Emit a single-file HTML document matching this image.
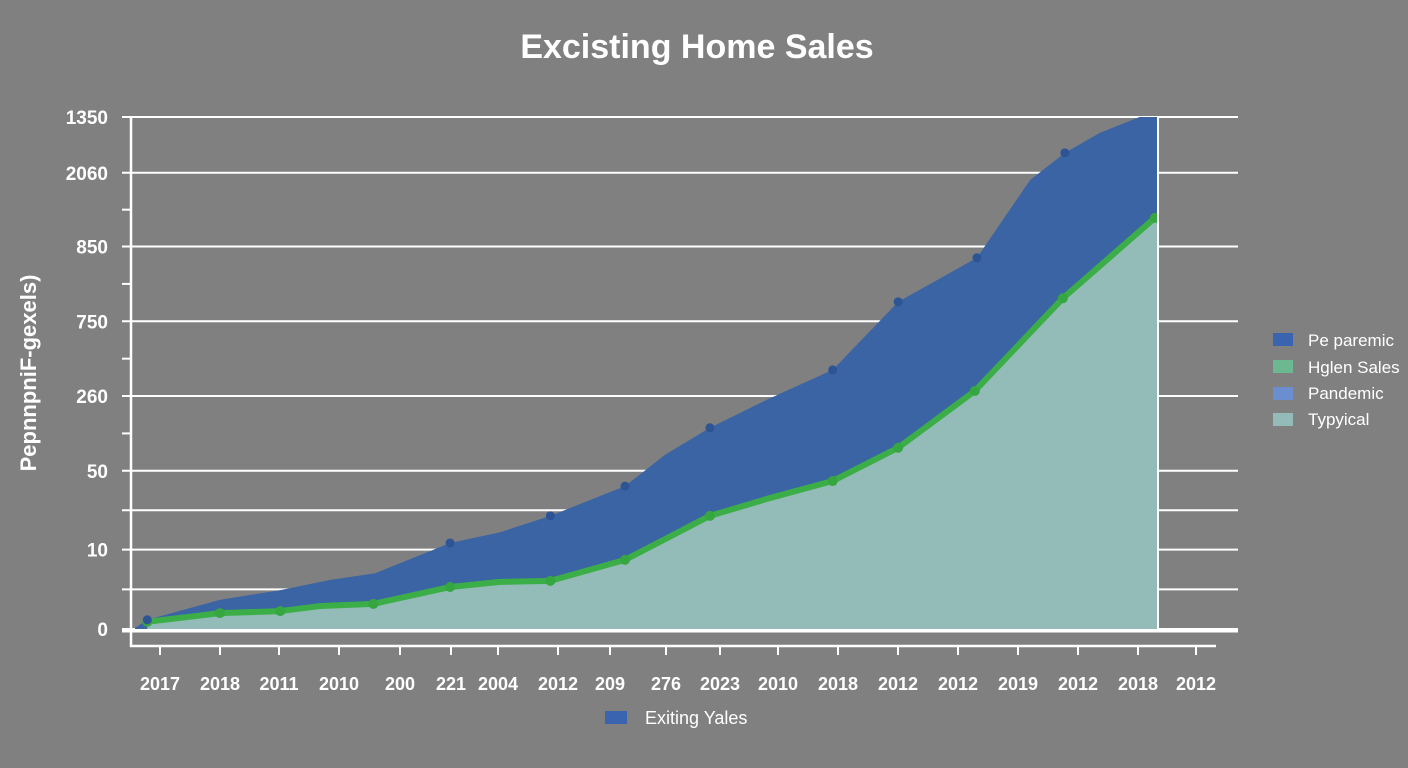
<!DOCTYPE html>
<html><head><meta charset="utf-8"><style>
html,body{margin:0;padding:0;background:#808080;}
svg{display:block;font-family:"Liberation Sans",sans-serif;}
</style></head><body>
<svg id="chart" width="1408" height="768">
<rect width="1408" height="768" fill="#808080"/>
<text x="697" y="58" text-anchor="middle" font-size="34" font-weight="bold" fill="#fff">Excisting Home Sales</text>
<text transform="translate(36,373) rotate(-90)" text-anchor="middle" font-size="22" font-weight="bold" fill="#fff">PepnnpniF-gexels)</text>
<g id="grid"></g>
<g id="marks"></g>
<g id="axes"></g>
<g id="legend">
<rect x="1273" y="333" width="20" height="13" fill="#3a64b0"/>
<text x="1308" y="346" font-size="17" fill="#fff">Pe paremic</text>
<rect x="1273" y="360" width="20" height="13" fill="#6cb890"/>
<text x="1308" y="373" font-size="17" fill="#fff">Hglen Sales</text>
<rect x="1273" y="387" width="20" height="13" fill="#6a8ed0"/>
<text x="1308" y="399" font-size="17" fill="#fff">Pandemic</text>
<rect x="1273" y="413" width="20" height="13" fill="#93bcb8"/>
<text x="1308" y="425" font-size="17" fill="#fff">Typyical</text>
</g>
<rect x="605" y="711" width="22" height="13" fill="#3a64b0"/>
<text x="645" y="724" font-size="18" fill="#fff">Exiting Yales</text>
</svg>
<script>
const yTickValues=[0,155,309,455,601,747,891,1000];
const yTickLabels=["0","10","50","260","750","850","2060","1350"];
const xLabels=["2017","2018","2011","2010","200","221","2004","2012","209","276","2023","2010","2018","2012","2012","2019","2012","2018","2012"];
const blueX=[0,1.2,8.3,14.2,19.1,23.5,30.8,35.7,40.6,47.9,51.8,56.2,62.1,68.2,74.6,82.3,87.5,90.9,94.3,98.2,100];
const blueY=[2,18,57,76,96,109,168,189,221,279,340,393,451,506,639,725,877,930,969,1000,1000];
const blueDotIdx=[1,6,8,9,11,13,14,15,17];
const greenX=[1.2,8.3,14.2,18.2,23.3,30.8,35.7,40.6,47.9,56.2,62.1,68.2,74.6,82.1,90.7,99.7,100];
const greenY=[14,31,35,45,49,82,92,94,135,221,256,289,354,465,646,803,808];
const greenDotIdx=[0,1,2,4,5,7,8,9,11,12,13,14,15];

const NS="http://www.w3.org/2000/svg";
const xs=v=>135+v/100*(1158-135);
const ys=v=>629-v/1000*512;
function mk(tag,attrs,parent){const e=document.createElementNS(NS,tag);for(const k in attrs)e.setAttribute(k,attrs[k]);parent.appendChild(e);return e;}
const grid=document.getElementById('grid'),marks=document.getElementById('marks'),axes=document.getElementById('axes');
yTickValues.forEach((v,i)=>{
  const l=mk('line',{x1:122,x2:1238,y1:ys(v),y2:ys(v),stroke:'#fff','stroke-width':2},grid);
  
  
  const t=mk('text',{x:108,y:ys(v)+7,'text-anchor':'end','font-size':19,'font-weight':'bold',fill:'#fff'},axes);
  t.textContent=yTickLabels[i];
  
  
  if(i>0 && i<yTickValues.length-2){
    const m=(yTickValues[i-1]+v)/2;
    const full=i<=2;
    const ml=mk('line',{x1:122,x2:full?1238:132,y1:ys(m),y2:ys(m),stroke:'#fff','stroke-width':2},grid);
    
    
  }
});
const lastMinor=(yTickValues[5]+yTickValues[6])/2;
const lm=mk('line',{x1:122,x2:132,y1:ys(lastMinor),y2:ys(lastMinor),stroke:'#fff','stroke-width':2},grid);


let d='M'+xs(blueX[0])+','+ys(0);
blueX.forEach((x,i)=>d+=' L'+xs(x)+','+ys(blueY[i]));
d+=' L'+xs(100)+','+ys(0)+'Z';
const ba=mk('path',{d:d,fill:'#3a64a4'},marks);


let d2='M'+xs(greenX[0])+','+ys(0);
greenX.forEach((x,i)=>d2+=' L'+xs(x)+','+ys(greenY[i]));
d2+=' L'+xs(100)+','+ys(0)+'Z';
const ta=mk('path',{d:d2,fill:'#93bcb8'},marks);


const gl=mk('polyline',{points:greenX.map((x,i)=>xs(x)+','+ys(greenY[i])).join(' '),fill:'none',stroke:'#3cae48','stroke-width':6,'stroke-linejoin':'round'},marks);


greenDotIdx.forEach(i=>{
  const c=mk('circle',{cx:xs(greenX[i]),cy:ys(greenY[i]),r:5,fill:'#36a640'},marks);
  
  
});
blueDotIdx.forEach(i=>{
  const c=mk('circle',{cx:xs(blueX[i]),cy:ys(blueY[i]),r:4.5,fill:'#2d5494'},marks);
  
  
});
const rb=mk('line',{x1:1158,x2:1158,y1:117,y2:632,stroke:'#fff','stroke-width':2},axes);


const bl=mk('line',{x1:122,x2:1238,y1:631,y2:631,stroke:'#fff','stroke-width':3},axes);


const va=mk('line',{x1:131,x2:131,y1:117,y2:647,stroke:'#fff','stroke-width':2.5},axes);


const xa=mk('line',{x1:130,x2:1216,y1:646,y2:646,stroke:'#fff','stroke-width':2.5},axes);


const xLabelPos=[160,220,279,339,400,451,498,558,610,666,720,778,838,898,958,1018,1078,1138,1196];
xLabels.forEach((s,i)=>{
  const px=xLabelPos[i];
  const tk=mk('line',{x1:px,x2:px,y1:646,y2:655,stroke:'#fff','stroke-width':2},axes);
  
  
  const t=mk('text',{x:px,y:690,'text-anchor':'middle','font-size':18,'font-weight':'bold',fill:'#fff'},axes);
  t.textContent=s;
  
  
});
</script>
</body></html>
